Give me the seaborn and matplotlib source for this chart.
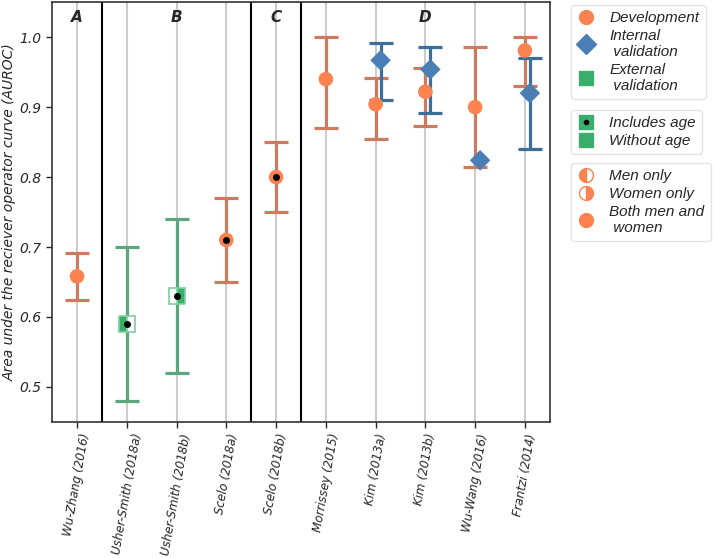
import numpy as np
import pandas as pd
import seaborn as sns
import matplotlib.pyplot as plt
from matplotlib.lines import Line2D

# Datos
studies = ["Wu-Zhang (2016)", "Usher-Smith (2018a)", "Usher-Smith (2018b)",
           "Scelo (2018a)", "Scelo (2018b)", "Morrissey (2015)",
           "Kim (2013a)", "Kim (2013b)", "Wu-Wang (2016)", "Frantzi (2014)"]

row_study = ["Wu-Zhang (2016)", "Usher-Smith (2018a)", "Usher-Smith (2018b)",
             "Scelo (2018a)", "Scelo (2018b)", "Morrissey (2015)",
             "Kim (2013a)", "Kim (2013a)", "Kim (2013b)", "Kim (2013b)",
             "Wu-Wang (2016)", "Wu-Wang (2016)", "Frantzi (2014)", "Frantzi (2014)"]
row_type = ["Development", "External", "External", "Development", "Development",
            "Development", "Development", "Internal", "Development", "Internal",
            "Development", "Internal", "Development", "Internal"]
auc = [0.658, 0.59, 0.63, 0.71, 0.80, 0.94, 0.904, 0.967, 0.922, 0.954,
       0.900, 0.824, 0.981, 0.920]
ci_low = [0.624, 0.48, 0.52, 0.65, 0.75, 0.87, 0.854, 0.910, 0.873, 0.892,
          0.814, np.nan, 0.930, 0.840]
ci_high = [0.692, 0.70, 0.74, 0.77, 0.85, 1.00, 0.942, 0.991, 0.956, 0.986,
           0.986, np.nan, 1.000, 0.970]
sex = ["both", "men", "women", "both", "both", "both", "both", "both", "both",
       "both", "both", "both", "both", "both"]
has_age = [False, True, True, True, True, False, False, False, False, False,
           False, False, False, False]

groups = ["A", "B", "C", "D"]
group_pos = [0, 2, 4, 7]
separators = [0.5, 3.5, 4.5]

df = pd.DataFrame({"study": row_study, "type": row_type, "auc": auc,
                   "lo": ci_low, "hi": ci_high, "sex": sex, "age": has_age})
df["x"] = df["study"].map({s: i for i, s in enumerate(studies)})
df.loc[df["type"] == "Internal", "x"] += 0.1

marker_col = {"Development": "#fc824f", "Internal": "#4a7fb6", "External": "#3aae6b"}
err_col = {"Development": "#cd7b5e", "Internal": "#3d6d99", "External": "#5da67d"}
markers = {"Development": "o", "Internal": "D", "External": "s"}

sns.set_style("white")
plt.rcParams["font.family"] = ["DejaVu Sans"]

fig = plt.figure(figsize=(7.14, 5.58), dpi=100)
ax = fig.add_axes([0.073, 0.244, 0.697, 0.752])

for x in range(len(studies)):
    ax.axvline(x, color="#cccccc", lw=1.5, zorder=0)
for s in separators:
    ax.axvline(s, color="black", lw=1.5, zorder=1)

# Intervalos de confianza (sin IC cuando no se reporta)
for t in ["External", "Development", "Internal"]:
    d = df[(df["type"] == t) & df["lo"].notna()]
    ax.errorbar(d["x"], d["auc"], yerr=[d["auc"] - d["lo"], d["hi"] - d["auc"]],
                fmt="none", ecolor=err_col[t], elinewidth=2.3, capsize=8.5,
                capthick=2.3, zorder=2)

# Puntos
full = df[df["sex"] == "both"]
sns.scatterplot(data=full, x="x", y="auc", hue="type", style="type",
                palette=marker_col, markers=markers, s=110, linewidth=0,
                legend=False, ax=ax, zorder=3)
for fs, side in [("men", "left"), ("women", "right")]:
    d = df[df["sex"] == fs]
    for _, r in d.iterrows():
        ax.plot(r["x"], r["auc"], marker=markers[r["type"]], ms=11,
                fillstyle=side, color=marker_col[r["type"]],
                markerfacecoloralt="white", markeredgecolor="#7fcf9f",
                mew=1.2, ls="none", zorder=3)
d = df[df["age"]]
ax.plot(d["x"], d["auc"], "o", color="black", ms=4, ls="none", zorder=4)

for g, p in zip(groups, group_pos):
    ax.text(p, 1.028, g, ha="center", va="center", fontsize=11,
            fontweight="bold", fontstyle="italic")

ax.set_xlim(-0.5, len(studies) - 0.5)
ax.set_ylim(0.45, 1.05)
ax.set_xticks(range(len(studies)))
ax.set_xticklabels(studies, rotation=80, ha="center", fontstyle="italic", fontsize=8.6)
ax.set_yticks([0.5, 0.6, 0.7, 0.8, 0.9, 1.0])
ax.set_yticklabels(["0.5", "0.6", "0.7", "0.8", "0.9", "1.0"], fontstyle="italic", fontsize=10)
ax.set_xlabel("")
ax.set_ylabel("Area under the reciever operator curve (AUROC)", fontstyle="italic",
              fontsize=10, labelpad=2)
ax.tick_params(axis="both", length=4, width=1, bottom=True, left=True)
for sp in ax.spines.values():
    sp.set_color("#333333")
    sp.set_linewidth(1.2)

# Leyendas
lfont = {"family": "Liberation Sans", "style": "italic", "size": 11}
kw = dict(loc="upper left", prop=lfont, frameon=True, edgecolor="#dddddd",
          handletextpad=0.9, labelspacing=0.25, borderpad=0.4, handlelength=1.2,
          borderaxespad=0)

h1 = [Line2D([], [], marker=markers[t], color=marker_col[t], ls="none", ms=10)
      for t in ["Development", "Internal", "External"]]
fig.legend(h1, ["Development", "Internal\n validation", "External\n validation"],
           bbox_to_anchor=(0.80, 0.991), **kw)

sq = Line2D([], [], marker="s", color=marker_col["External"], ls="none", ms=10)
dot = Line2D([], [], marker="o", color="black", ls="none", ms=3)
fig.legend([(sq, dot), sq], ["Includes age", "Without age"],
           bbox_to_anchor=(0.80, 0.803), **kw)

h3 = [Line2D([], [], marker="o", color=marker_col["Development"], ls="none", ms=10,
             fillstyle=f, markerfacecoloralt="white")
      for f in ["left", "right", "full"]]
fig.legend(h3, ["Men only", "Women only", "Both men and\n women"],
           bbox_to_anchor=(0.80, 0.708), **kw)

plt.savefig("out.png", dpi=100)
plt.close()
